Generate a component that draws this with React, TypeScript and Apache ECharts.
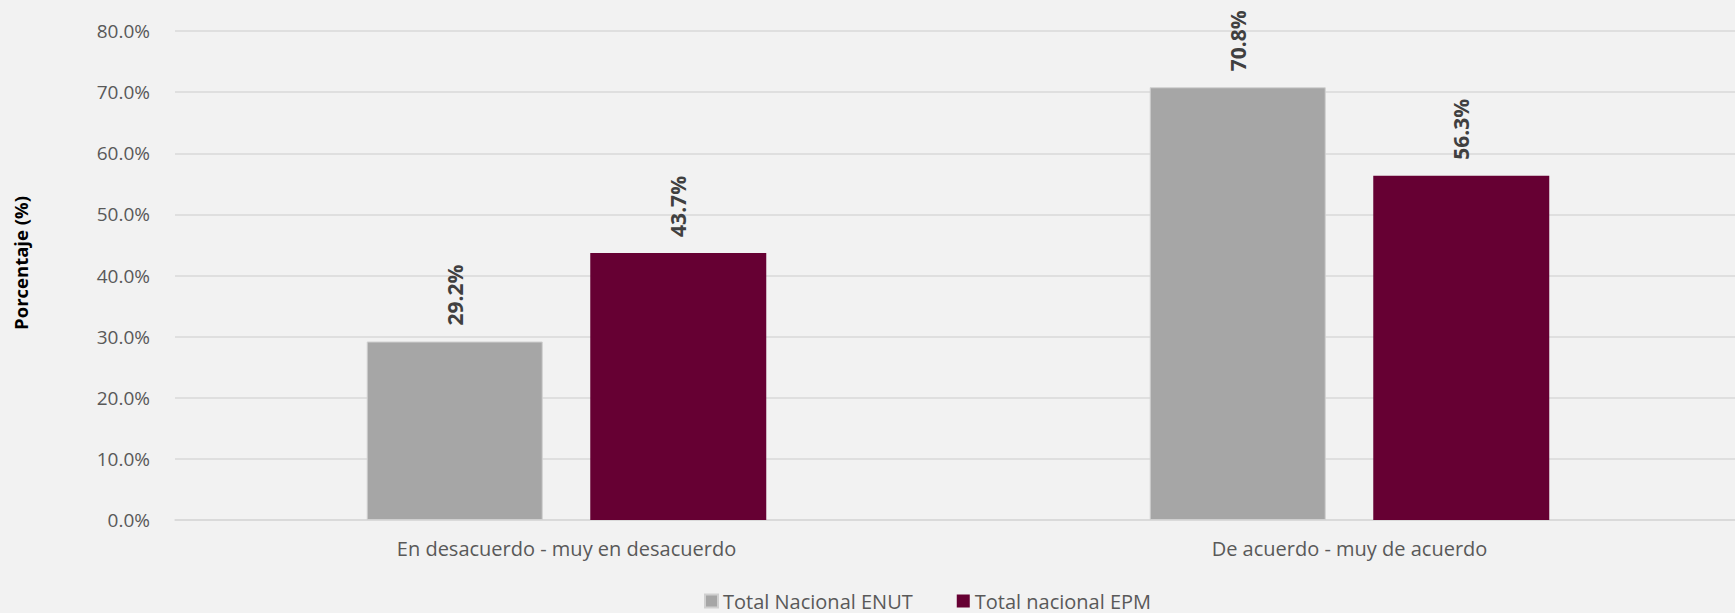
import React, { useEffect, useRef } from "react";
import * as echarts from "echarts";

const categories = ["En desacuerdo - muy en desacuerdo", "De acuerdo - muy de acuerdo"];
const seriesNames = ["Total Nacional ENUT", "Total nacional EPM"];
const enutValues = [29.2, 70.8];
const epmValues = [43.7, 56.3];
const yTicks = { min: 0, max: 80, interval: 10 };
const yTitle = "Porcentaje (%)";

const FONT = "'Open Sans', 'Noto Sans', sans-serif";

export default function App() {
  const ref = useRef<HTMLDivElement>(null);
  useEffect(() => {
    if (!ref.current) return;
    const chart = echarts.init(ref.current, null, { renderer: "svg" });
    const label = {
      show: true,
      position: "top",
      rotate: 90,
      align: "left",
      verticalAlign: "middle",
      distance: 16,
      fontFamily: FONT,
      fontSize: 21,
      fontWeight: "bold",
      color: "#404040",
      formatter: (p: any) => p.value.toFixed(1) + "%",
    };
    chart.setOption({
      animation: false,
      backgroundColor: "#f2f2f2",
      textStyle: { fontFamily: FONT },
      grid: { left: 175, right: 0, top: 31, bottom: 93, containLabel: false },
      legend: {
        top: 591,
        left: 704,
        padding: 0,
        itemWidth: 13,
        itemHeight: 13,
        itemGap: 44,
        icon: "rect",
        textStyle: { fontFamily: FONT, fontSize: 20, color: "#595959" },
        data: seriesNames,
      },
      xAxis: {
        type: "category",
        data: categories,
        axisLine: { show: true, lineStyle: { color: "#d9d9d9", width: 1.5 } },
        axisTick: { show: false },
        axisLabel: { margin: 18, fontFamily: FONT, fontSize: 20, color: "#595959" },
      },
      yAxis: {
        type: "value",
        min: yTicks.min,
        max: yTicks.max,
        interval: yTicks.interval,
        axisLine: { show: false },
        axisTick: { show: false },
        splitLine: { lineStyle: { color: "#d9d9d9", width: 1.5 } },
        axisLabel: {
          margin: 25,
          fontFamily: FONT,
          fontSize: 19,
          color: "#595959",
          formatter: (v: number) => v.toFixed(1) + "%",
        },
      },
      graphic: [
        {
          type: "text",
          x: 20,
          y: 263,
          rotation: Math.PI / 2,
          style: {
            text: yTitle,
            fontFamily: FONT,
            fontSize: 18.5,
            fontWeight: "bold",
            fill: "#000000",
            align: "center",
            verticalAlign: "middle",
          },
        },
      ],
      series: [
        {
          name: seriesNames[0],
          type: "bar",
          data: enutValues,
          barWidth: 176,
          barGap: "27%",
          itemStyle: { color: "#a6a6a6", borderColor: "#d0d0d0", borderWidth: 1 },
          label,
        },
        {
          name: seriesNames[1],
          type: "bar",
          data: epmValues,
          barWidth: 176,
          barGap: "27%",
          itemStyle: { color: "#660033" },
          label,
        },
      ],
    });
    return () => chart.dispose();
  }, []);
  return (
    <div style={{ position: "fixed", left: 0, top: 0, width: 1735, height: 613, overflow: "hidden" }}>
      <div ref={ref} style={{ position: "absolute", left: 0, top: 0, width: 1741, height: 613 }} />
    </div>
  );
}
